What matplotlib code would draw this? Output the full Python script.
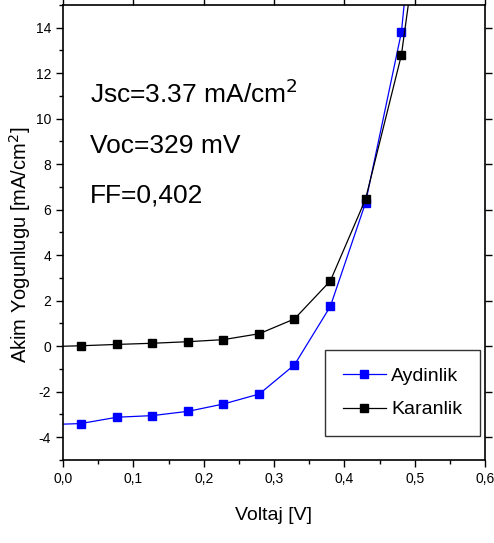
import matplotlib.pyplot as plt
from matplotlib.ticker import MultipleLocator, FuncFormatter

plt.rcParams['font.family'] = ['Liberation Sans', 'DejaVu Sans']

# voltage (V) - first/last points lie outside the visible window
voltaj = [-0.025, 0.025, 0.077, 0.127, 0.178, 0.228, 0.279, 0.329, 0.380, 0.430, 0.481, 0.530]
aydinlik = [-3.45, -3.40, -3.12, -3.05, -2.86, -2.54, -2.10, -0.82, 1.75, 6.30, 13.80, 29.0]
karanlik = [-0.02, 0.02, 0.08, 0.13, 0.20, 0.29, 0.55, 1.20, 2.87, 6.46, 12.80, 23.8]

fig = plt.figure(figsize=(4.94, 5.43), dpi=100)
ax = fig.add_axes([0.1275, 0.1529, 0.8545, 0.8379])

ax.plot(voltaj, aydinlik, color="blue", marker="s", markersize=6, linewidth=0.9,
        label="Aydinlik")
ax.plot(voltaj, karanlik, color="black", marker="s", markersize=6, linewidth=0.9,
        label="Karanlik")

ax.set_xlim(0, 0.6)
ax.set_ylim(-5, 15)

ax.xaxis.set_major_locator(MultipleLocator(0.1))
ax.xaxis.set_minor_locator(MultipleLocator(0.05))
ax.yaxis.set_major_locator(MultipleLocator(2))
ax.yaxis.set_minor_locator(MultipleLocator(1))
ax.xaxis.set_major_formatter(FuncFormatter(lambda v, p: f"{v:.1f}".replace(".", ",")))
ax.yaxis.set_major_formatter(FuncFormatter(lambda v, p: f"{v:.0f}" if v != 0 else "0"))

ax.tick_params(which="both", direction="out", labelsize=10, width=1)
ax.tick_params(which="major", length=5)
ax.tick_params(which="minor", length=3)
# top / right: short major ticks only
ax.tick_params(which="major", top=True, right=True, labeltop=False, labelright=False)
ax.tick_params(which="minor", top=False, right=False)
for s in ax.spines.values():
    s.set_linewidth(1.2)

ax.set_xlabel("Voltaj [V]", fontsize=14)
ax.xaxis.set_label_coords(0.498, -0.103)
ax.set_ylabel("Akim Yogunlugu [mA/cm$^2$]", fontsize=14.5)
ax.yaxis.set_label_coords(-0.072, 0.4725)

ax.text(0.038, 10.7, "Jsc=3.37 mA/cm$^2$", fontsize=19, va="baseline")
ax.text(0.038, 8.49, "Voc=329 mV", fontsize=19, va="baseline")
ax.text(0.038, 6.32, "FF=0,402", fontsize=19, va="baseline")

leg = ax.legend(loc="lower right", bbox_to_anchor=(0.988, 0.053), borderaxespad=0,
                fontsize=14, frameon=True, fancybox=False, edgecolor="black",
                handlelength=2.2, handletextpad=0.3, borderpad=0.9,
                labelspacing=0.8)
leg.get_frame().set_linewidth(1.0)

fig.savefig("out.png", dpi=100)
